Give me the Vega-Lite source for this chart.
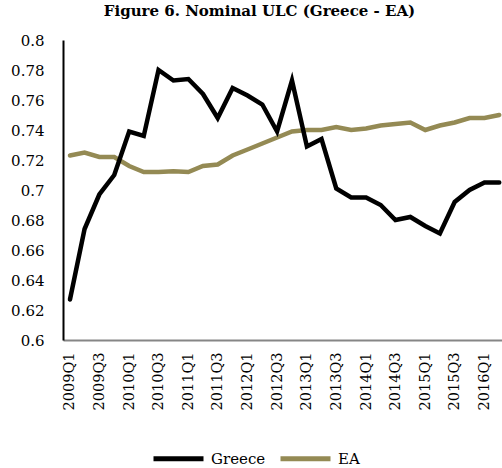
{
  "$schema": "https://vega.github.io/schema/vega-lite/v6.json",
  "width": 439,
  "height": 300,
  "autosize": "none",
  "padding": {"left": 63, "top": 40, "right": 0, "bottom": 128},
  "background": "white",
  "config": {"view": {"stroke": null}, "font": "DejaVu Serif"},
  "title": {"text": "Figure 6. Nominal ULC (Greece - EA)", "fontSize": 15, "fontWeight": "bold", "font": "DejaVu Serif", "color": "black", "anchor": "middle", "dx": -23, "offset": 14},
  "data": {"values": [
    {"date": "2009-01-01", "series": "EA", "value": 0.723},
    {"date": "2009-04-01", "series": "EA", "value": 0.725},
    {"date": "2009-07-01", "series": "EA", "value": 0.722},
    {"date": "2009-10-01", "series": "EA", "value": 0.722},
    {"date": "2010-01-01", "series": "EA", "value": 0.716},
    {"date": "2010-04-01", "series": "EA", "value": 0.712},
    {"date": "2010-07-01", "series": "EA", "value": 0.712},
    {"date": "2010-10-01", "series": "EA", "value": 0.7125},
    {"date": "2011-01-01", "series": "EA", "value": 0.712},
    {"date": "2011-04-01", "series": "EA", "value": 0.716},
    {"date": "2011-07-01", "series": "EA", "value": 0.717},
    {"date": "2011-10-01", "series": "EA", "value": 0.723},
    {"date": "2012-01-01", "series": "EA", "value": 0.727},
    {"date": "2012-04-01", "series": "EA", "value": 0.731},
    {"date": "2012-07-01", "series": "EA", "value": 0.735},
    {"date": "2012-10-01", "series": "EA", "value": 0.739},
    {"date": "2013-01-01", "series": "EA", "value": 0.740},
    {"date": "2013-04-01", "series": "EA", "value": 0.740},
    {"date": "2013-07-01", "series": "EA", "value": 0.742},
    {"date": "2013-10-01", "series": "EA", "value": 0.740},
    {"date": "2014-01-01", "series": "EA", "value": 0.741},
    {"date": "2014-04-01", "series": "EA", "value": 0.743},
    {"date": "2014-07-01", "series": "EA", "value": 0.744},
    {"date": "2014-10-01", "series": "EA", "value": 0.745},
    {"date": "2015-01-01", "series": "EA", "value": 0.740},
    {"date": "2015-04-01", "series": "EA", "value": 0.743},
    {"date": "2015-07-01", "series": "EA", "value": 0.745},
    {"date": "2015-10-01", "series": "EA", "value": 0.748},
    {"date": "2016-01-01", "series": "EA", "value": 0.748},
    {"date": "2016-04-01", "series": "EA", "value": 0.750},
    {"date": "2009-01-01", "series": "Greece", "value": 0.627},
    {"date": "2009-04-01", "series": "Greece", "value": 0.674},
    {"date": "2009-07-01", "series": "Greece", "value": 0.697},
    {"date": "2009-10-01", "series": "Greece", "value": 0.710},
    {"date": "2010-01-01", "series": "Greece", "value": 0.739},
    {"date": "2010-04-01", "series": "Greece", "value": 0.736},
    {"date": "2010-07-01", "series": "Greece", "value": 0.780},
    {"date": "2010-10-01", "series": "Greece", "value": 0.773},
    {"date": "2011-01-01", "series": "Greece", "value": 0.774},
    {"date": "2011-04-01", "series": "Greece", "value": 0.764},
    {"date": "2011-07-01", "series": "Greece", "value": 0.748},
    {"date": "2011-10-01", "series": "Greece", "value": 0.768},
    {"date": "2012-01-01", "series": "Greece", "value": 0.763},
    {"date": "2012-04-01", "series": "Greece", "value": 0.757},
    {"date": "2012-07-01", "series": "Greece", "value": 0.739},
    {"date": "2012-10-01", "series": "Greece", "value": 0.773},
    {"date": "2013-01-01", "series": "Greece", "value": 0.729},
    {"date": "2013-04-01", "series": "Greece", "value": 0.734},
    {"date": "2013-07-01", "series": "Greece", "value": 0.701},
    {"date": "2013-10-01", "series": "Greece", "value": 0.695},
    {"date": "2014-01-01", "series": "Greece", "value": 0.695},
    {"date": "2014-04-01", "series": "Greece", "value": 0.690},
    {"date": "2014-07-01", "series": "Greece", "value": 0.680},
    {"date": "2014-10-01", "series": "Greece", "value": 0.682},
    {"date": "2015-01-01", "series": "Greece", "value": 0.676},
    {"date": "2015-04-01", "series": "Greece", "value": 0.671},
    {"date": "2015-07-01", "series": "Greece", "value": 0.692},
    {"date": "2015-10-01", "series": "Greece", "value": 0.700},
    {"date": "2016-01-01", "series": "Greece", "value": 0.705},
    {"date": "2016-04-01", "series": "Greece", "value": 0.705}
  ]},
  "mark": {"type": "line", "strokeWidth": 4.5, "strokeCap": "round", "strokeJoin": "miter"},
  "encoding": {
    "x": {
      "field": "date",
      "type": "temporal",
      "scale": {"type": "utc", "domain": [{"year": 2008, "month": 11, "date": 19, "utc": true}, {"year": 2016, "month": 4, "date": 18, "utc": true}]},
      "axis": {"title": null, "tickCount": {"interval": "month", "step": 6}, "labelExpr": "utcFormat(datum.value, '%YQ%q')", "labelAngle": 270, "ticks": false, "labelPadding": 12, "domainColor": "#868686", "domainWidth": 2, "grid": false, "labelFont": "DejaVu Serif", "labelFontSize": 14.5, "labelColor": "black", "labelOverlap": false, "labelBound": false, "labelFlush": false}
    },
    "y": {
      "field": "value",
      "type": "quantitative",
      "scale": {"domain": [0.6, 0.8], "nice": false, "zero": false},
      "axis": {"title": null, "values": [0.6, 0.62, 0.64, 0.66, 0.68, 0.7, 0.72, 0.74, 0.76, 0.78, 0.8], "format": ".2~f", "ticks": false, "labelPadding": 19, "domainColor": "black", "domainWidth": 2, "grid": false, "labelFont": "DejaVu Serif", "labelFontSize": 15, "labelColor": "black"}
    },
    "color": {
      "field": "series",
      "type": "nominal",
      "scale": {"domain": ["Greece", "EA"], "range": ["#000000", "#948A54"]},
      "legend": {"title": null, "orient": "none", "legendX": 88, "legendY": 391, "direction": "horizontal", "symbolType": "stroke", "symbolSize": 2500, "symbolStrokeWidth": 5, "labelFont": "DejaVu Serif", "labelFontSize": 15, "labelColor": "black", "labelOffset": 5, "columnPadding": 4, "padding": 0}
    }
  }
}
